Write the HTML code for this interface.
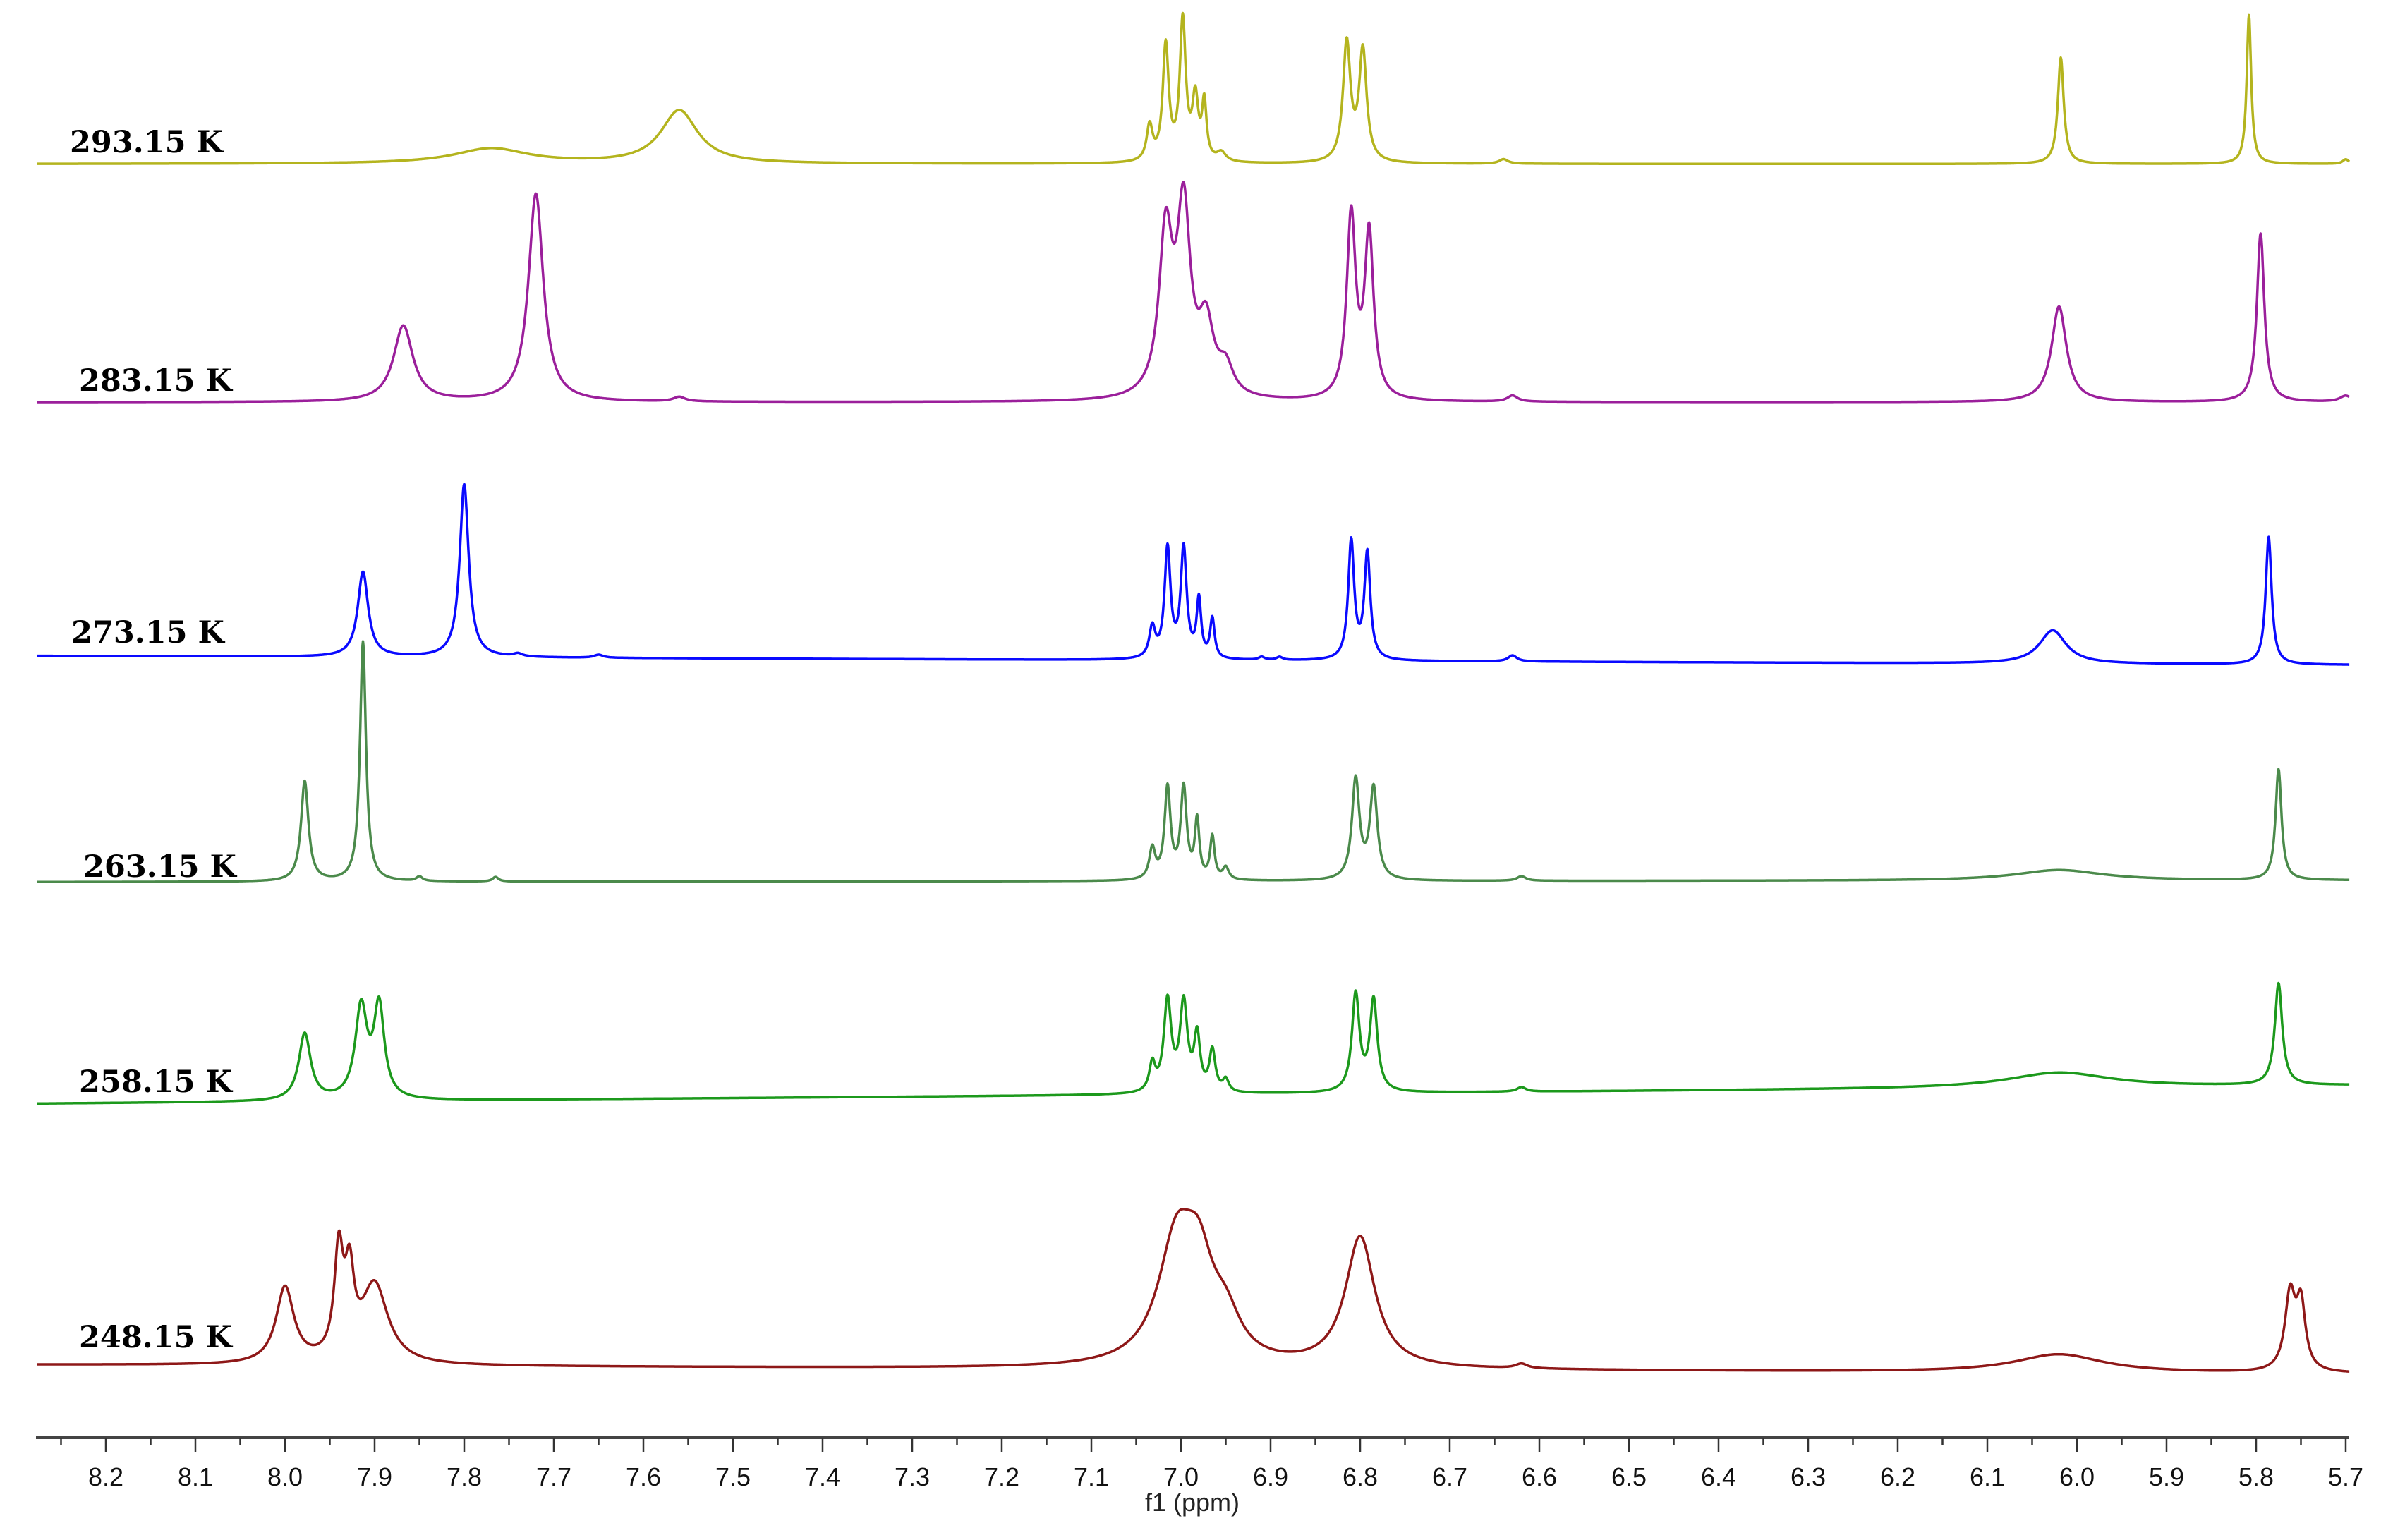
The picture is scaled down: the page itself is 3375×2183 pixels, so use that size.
<!DOCTYPE html>
<html><head><meta charset="utf-8"><style>
html,body{margin:0;padding:0;background:#fff;}
svg{display:block;}
</style></head><body>
<svg id="chart" width="3375" height="2183" viewBox="0 0 3375 2183" xmlns="http://www.w3.org/2000/svg">
<g id="spectra"></g>
<g id="labels"></g>
<g id="axis"></g>
<text x="1690" y="2142" font-family="Liberation Sans, sans-serif" font-size="36" fill="#222" text-anchor="middle">f1 (ppm)</text>
</svg>
<script>
// ---- data (heights in display units, scaled by K) ----
const temps = ["293.15 K","283.15 K","273.15 K","263.15 K","258.15 K","248.15 K"];
const colors = ["#b4b41e","#9b1f9b","#0a0aff","#4b8a4b","#1c991c","#8e1818"];
const baseLeft = [108,265,432,581,727,899];
const baseRight = [108,265,438,580,715,905];
const labelX = [99,112,101,118,112,112];
const labelY = [200,538,895,1227,1532,1894];
const pos0 = [7.77,7.56,7.035,7.017,6.998,6.984,6.974,6.955,6.815,6.797,6.64,6.018,5.808,5.70];
const hgt0 = [10,35,23,76,92,40,37,6,78,73,3,70,98,3];
const wid0 = [0.05,0.025,0.004,0.004,0.004,0.004,0.003,0.006,0.005,0.005,0.006,0.004,0.003,0.004];
const pos1 = [7.868,7.72,7.56,7.017,6.997,6.972,6.95,6.81,6.79,6.63,6.02,5.795,5.70];
const hgt1 = [50,137,3,105,120,45,18,120,108,4,63,111,4];
const wid1 = [0.013,0.01,0.008,0.009,0.009,0.01,0.01,0.006,0.006,0.007,0.01,0.005,0.008];
const pos2 = [7.913,7.80,7.74,7.65,7.032,7.015,6.997,6.98,6.965,6.91,6.89,6.81,6.792,6.63,6.027,5.786];
const hgt2 = [56,114,2,2,20,72,72,38,26,2,2,78,70,4,22,84];
const wid2 = [0.007,0.006,0.006,0.006,0.004,0.004,0.004,0.003,0.003,0.004,0.004,0.004,0.004,0.006,0.018,0.004];
const pos3 = [7.978,7.913,7.85,7.765,7.032,7.015,6.997,6.982,6.965,6.95,6.805,6.785,6.62,6.02,5.775];
const hgt3 = [66,158,3,3,20,60,60,38,28,8,66,60,3,7,73];
const wid3 = [0.005,0.004,0.004,0.004,0.004,0.004,0.004,0.003,0.003,0.004,0.005,0.005,0.006,0.06,0.004];
const pos4 = [7.978,7.915,7.895,7.032,7.015,6.997,6.982,6.965,6.95,6.805,6.785,6.62,6.02,5.775];
const hgt4 = [44,60,60,18,60,58,36,27,8,64,60,3,10,67];
const wid4 = [0.008,0.008,0.007,0.004,0.005,0.005,0.004,0.004,0.004,0.005,0.005,0.006,0.07,0.005];
const pos5 = [8.0,7.94,7.928,7.90,7.005,6.98,6.95,6.80,6.62,6.02,5.762,5.75];
const hgt5 = [50,68,50,52,78,52,24,86,3,12,50,42];
const wid5 = [0.012,0.006,0.006,0.018,0.025,0.02,0.02,0.02,0.008,0.06,0.007,0.006];
const positions = [pos0,pos1,pos2,pos3,pos4,pos5];
const heights = [hgt0,hgt1,hgt2,hgt3,hgt4,hgt5];
const widths = [wid0,wid1,wid2,wid3,wid4,wid5];
const majorTicks = ["8.2","8.1","8.0","7.9","7.8","7.7","7.6","7.5","7.4","7.3","7.2","7.1","7.0","6.9","6.8","6.7","6.6","6.5","6.4","6.3","6.2","6.1","6.0","5.9","5.8","5.7"];

// ---- scales ----
const K = 2.152;
const PPM_LEFT = 8.277, PPM_RIGHT = 5.696;
function xs(ppm){ return 150 + (8.2 - ppm) * 1270; }
const NS = "http://www.w3.org/2000/svg";

const gS = document.getElementById('spectra');
for (let s = 0; s < temps.length; s++) {
  const P = positions[s], H = heights[s], W = widths[s];
  let d = "";
  for (let ppm = PPM_LEFT; ppm >= PPM_RIGHT; ppm -= 0.0005) {
    const t = (PPM_LEFT - ppm) / (PPM_LEFT - PPM_RIGHT);
    let base = baseLeft[s] + (baseRight[s] - baseLeft[s]) * t;
    let sig = 0;
    for (let i = 0; i < P.length; i++) {
      const u = (ppm - P[i]) / W[i];
      sig += H[i] / (1 + u * u);
    }
    const y = (base - sig) * K;
    d += (d ? "L" : "M") + xs(ppm).toFixed(1) + "," + y.toFixed(1);
  }
  const p = document.createElementNS(NS, 'path');
  p.setAttribute('d', d);
  p.setAttribute('fill', 'none');
  p.setAttribute('stroke', colors[s]);
  p.setAttribute('stroke-width', '3.5');
  p.setAttribute('stroke-linejoin', 'round');
  
  
  gS.appendChild(p);

  const tx = document.createElementNS(NS, 'text');
  tx.setAttribute('x', labelX[s]);
  tx.setAttribute('y', labelY[s] + 16);
  tx.setAttribute('font-family', 'DejaVu Serif, Liberation Serif, serif');
  tx.setAttribute('font-weight', 'bold');
  tx.setAttribute('font-size', '43');
  tx.setAttribute('fill', '#000');
  tx.textContent = temps[s];
  
  
  document.getElementById('labels').appendChild(tx);
}

// ---- axis ----
const gA = document.getElementById('axis');
const line = document.createElementNS(NS, 'line');
line.setAttribute('x1', 51); line.setAttribute('x2', 3330);
line.setAttribute('y1', 2038); line.setAttribute('y2', 2038);
line.setAttribute('stroke', '#444'); line.setAttribute('stroke-width', '4');


gA.appendChild(line);
for (let i = 0; i < majorTicks.length; i++) {
  const v = parseFloat(majorTicks[i]);
  const x = xs(v);
  const t = document.createElementNS(NS, 'line');
  t.setAttribute('x1', x); t.setAttribute('x2', x);
  t.setAttribute('y1', 2038); t.setAttribute('y2', 2058);
  t.setAttribute('stroke', '#333'); t.setAttribute('stroke-width', '2.5');
  
  
  gA.appendChild(t);
  const xm = xs(v + 0.05);
  const m = document.createElementNS(NS, 'line');
  m.setAttribute('x1', xm); m.setAttribute('x2', xm);
  m.setAttribute('y1', 2038); m.setAttribute('y2', 2049);
  m.setAttribute('stroke', '#333'); m.setAttribute('stroke-width', '2.5');
  
  
  gA.appendChild(m);
  const lb = document.createElementNS(NS, 'text');
  lb.setAttribute('x', x);
  lb.setAttribute('y', 2106);
  lb.setAttribute('text-anchor', 'middle');
  lb.setAttribute('font-family', 'Liberation Sans Narrow, Liberation Sans, sans-serif');
  lb.setAttribute('font-size', '36');
  lb.setAttribute('fill', '#111');
  lb.textContent = majorTicks[i];
  
  
  gA.appendChild(lb);
}
</script>
</body></html>
